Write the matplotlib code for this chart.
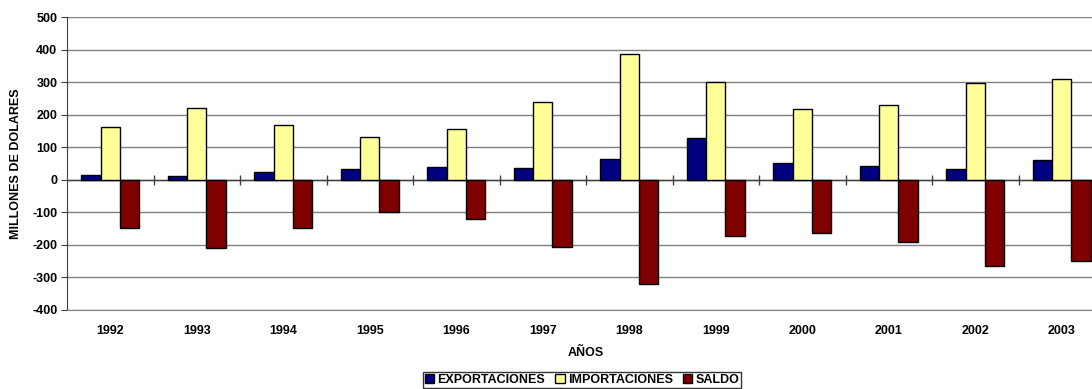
import numpy as np
from matplotlib import pyplot as plt

plt.rcParams['font.family'] = ['Liberation Sans', 'DejaVu Sans']
plt.rcParams['font.weight'] = 'bold'
plt.rcParams['axes.unicode_minus'] = False

years = ["1992", "1993", "1994", "1995", "1996", "1997",
         "1998", "1999", "2000", "2001", "2002", "2003"]
exportaciones = [15, 13, 23, 33, 39, 36, 65, 129, 52, 42, 33, 60]
importaciones = [162, 222, 169, 131, 157, 240, 385, 301, 216, 230, 298, 309]
saldo = [-148, -210, -148, -100, -120, -205, -320, -172, -165, -190, -264, -250]

x = np.arange(len(years))
w = 0.223

fig = plt.figure(figsize=(10.92, 3.89), dpi=100)
ax = fig.add_axes([67 / 1092, 79 / 389, 1038 / 1092, 293 / 389])

ax.bar(x - w, exportaciones, w, color="#000080", edgecolor="black", linewidth=1, label="EXPORTACIONES", zorder=3)
ax.bar(x, importaciones, w, color="#FFFF99", edgecolor="black", linewidth=1, label="IMPORTACIONES", zorder=3)
ax.bar(x + w, saldo, w, color="#800000", edgecolor="black", linewidth=1, label="SALDO", zorder=3)

ax.set_xlim(-0.5, len(years) - 0.5)
ax.set_ylim(-400, 500)
ax.set_yticks(np.arange(-400, 501, 100))
ax.set_xticks(x)
ax.set_xticklabels(years)

# horizontal grid
ax.yaxis.grid(True, color="#808080", linewidth=1)
ax.set_axisbelow(True)

# zero axis with ticks between categories
ax.axhline(0, color="#404040", linewidth=1, zorder=2)
ax.plot(x[1:] - 0.5, np.zeros(len(x) - 1), linestyle="none", marker="|",
        markersize=7, color="#404040", markeredgewidth=1, zorder=2)

for side in ["top", "right"]:
    ax.spines[side].set_visible(False)
ax.spines["left"].set_color("#404040")
ax.spines["bottom"].set_color("#808080")

ax.tick_params(axis="x", length=0, pad=11, labelsize=9)
ax.tick_params(axis="y", length=4, color="#404040", pad=3, labelsize=9)

ax.set_xlabel("AÑOS", fontsize=9, fontweight="bold", labelpad=7)
ax.set_ylabel("MILLONES DE DOLARES", fontsize=9, fontweight="bold", labelpad=7)

fig.legend(loc="upper center", bbox_to_anchor=(582 / 1092, 1 - 372 / 389), ncol=3,
           fontsize=9, frameon=True, fancybox=False, edgecolor="black",
           handlelength=0.75, handleheight=0.75, handletextpad=0.25, columnspacing=0.8,
           borderpad=0.15, borderaxespad=0)

fig.savefig("out.png", dpi=100)
